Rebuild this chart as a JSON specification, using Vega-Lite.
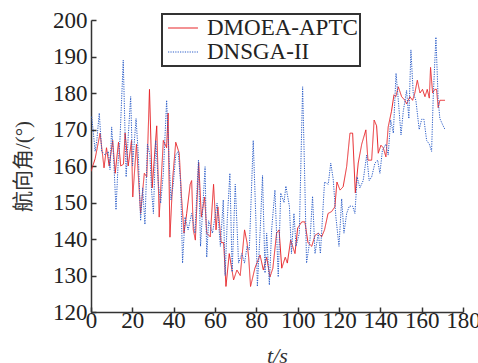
{
  "$schema": "https://vega.github.io/schema/vega-lite/v6.json",
  "width": 372,
  "height": 292,
  "autosize": {"type": "none"},
  "padding": {"left": 91, "top": 20, "right": 15, "bottom": 51},
  "background": "white",
  "config": {
    "view": {"stroke": null},
    "axis": {
      "grid": false,
      "domainColor": "#333",
      "domainWidth": 1.5,
      "tickColor": "#333",
      "tickWidth": 1.5,
      "tickSize": -5,
      "labelFont": "Liberation Serif",
      "labelFontSize": 23,
      "labelColor": "#222",
      "titleFont": "Liberation Serif, Noto Sans CJK SC",
      "titleFontSize": 21,
      "titleFontWeight": "normal",
      "titleColor": "#333"
    }
  },
  "data": {
    "values": [
      {"t": 0, "v": 158.5, "s": "DMOEA-APTC"},
      {"t": 2, "v": 162, "s": "DMOEA-APTC"},
      {"t": 4.4, "v": 169, "s": "DMOEA-APTC"},
      {"t": 6.3, "v": 159.5, "s": "DMOEA-APTC"},
      {"t": 7.5, "v": 165, "s": "DMOEA-APTC"},
      {"t": 8.8, "v": 160, "s": "DMOEA-APTC"},
      {"t": 10.5, "v": 167, "s": "DMOEA-APTC"},
      {"t": 11.7, "v": 158, "s": "DMOEA-APTC"},
      {"t": 13.3, "v": 166.5, "s": "DMOEA-APTC"},
      {"t": 14.4, "v": 160, "s": "DMOEA-APTC"},
      {"t": 15.7, "v": 160.5, "s": "DMOEA-APTC"},
      {"t": 16.5, "v": 169, "s": "DMOEA-APTC"},
      {"t": 18, "v": 160, "s": "DMOEA-APTC"},
      {"t": 19.6, "v": 167, "s": "DMOEA-APTC"},
      {"t": 20.2, "v": 151.5, "s": "DMOEA-APTC"},
      {"t": 22, "v": 166, "s": "DMOEA-APTC"},
      {"t": 24, "v": 147, "s": "DMOEA-APTC"},
      {"t": 25.8, "v": 158, "s": "DMOEA-APTC"},
      {"t": 27, "v": 157, "s": "DMOEA-APTC"},
      {"t": 28.3, "v": 181, "s": "DMOEA-APTC"},
      {"t": 29.6, "v": 154, "s": "DMOEA-APTC"},
      {"t": 31.8, "v": 171, "s": "DMOEA-APTC"},
      {"t": 33, "v": 146, "s": "DMOEA-APTC"},
      {"t": 35, "v": 167, "s": "DMOEA-APTC"},
      {"t": 36.6, "v": 165, "s": "DMOEA-APTC"},
      {"t": 37.3, "v": 174.5, "s": "DMOEA-APTC"},
      {"t": 38.2, "v": 140.5, "s": "DMOEA-APTC"},
      {"t": 39.6, "v": 157, "s": "DMOEA-APTC"},
      {"t": 41, "v": 166.5, "s": "DMOEA-APTC"},
      {"t": 42.7, "v": 163.5, "s": "DMOEA-APTC"},
      {"t": 43.8, "v": 151.5, "s": "DMOEA-APTC"},
      {"t": 45, "v": 141.6, "s": "DMOEA-APTC"},
      {"t": 46.3, "v": 147, "s": "DMOEA-APTC"},
      {"t": 48, "v": 155, "s": "DMOEA-APTC"},
      {"t": 48.7, "v": 156, "s": "DMOEA-APTC"},
      {"t": 49.5, "v": 142.5, "s": "DMOEA-APTC"},
      {"t": 50.5, "v": 139.7, "s": "DMOEA-APTC"},
      {"t": 52.1, "v": 161, "s": "DMOEA-APTC"},
      {"t": 53.4, "v": 146, "s": "DMOEA-APTC"},
      {"t": 55, "v": 151.5, "s": "DMOEA-APTC"},
      {"t": 56, "v": 141.6, "s": "DMOEA-APTC"},
      {"t": 57.7, "v": 140.6, "s": "DMOEA-APTC"},
      {"t": 59.3, "v": 155, "s": "DMOEA-APTC"},
      {"t": 60.5, "v": 142.5, "s": "DMOEA-APTC"},
      {"t": 61.4, "v": 148.8, "s": "DMOEA-APTC"},
      {"t": 63, "v": 139, "s": "DMOEA-APTC"},
      {"t": 64.2, "v": 139, "s": "DMOEA-APTC"},
      {"t": 65.3, "v": 127, "s": "DMOEA-APTC"},
      {"t": 66.9, "v": 136, "s": "DMOEA-APTC"},
      {"t": 69, "v": 128.8, "s": "DMOEA-APTC"},
      {"t": 70.6, "v": 131.5, "s": "DMOEA-APTC"},
      {"t": 72.2, "v": 130, "s": "DMOEA-APTC"},
      {"t": 74.3, "v": 142.5, "s": "DMOEA-APTC"},
      {"t": 75.5, "v": 139, "s": "DMOEA-APTC"},
      {"t": 76.3, "v": 135, "s": "DMOEA-APTC"},
      {"t": 77.2, "v": 127, "s": "DMOEA-APTC"},
      {"t": 79.3, "v": 132, "s": "DMOEA-APTC"},
      {"t": 81.8, "v": 135.6, "s": "DMOEA-APTC"},
      {"t": 83.4, "v": 131.5, "s": "DMOEA-APTC"},
      {"t": 85, "v": 135, "s": "DMOEA-APTC"},
      {"t": 86.6, "v": 129.6, "s": "DMOEA-APTC"},
      {"t": 88, "v": 132, "s": "DMOEA-APTC"},
      {"t": 89.8, "v": 141.6, "s": "DMOEA-APTC"},
      {"t": 91, "v": 142.5, "s": "DMOEA-APTC"},
      {"t": 92.3, "v": 132, "s": "DMOEA-APTC"},
      {"t": 94, "v": 135, "s": "DMOEA-APTC"},
      {"t": 95, "v": 133.4, "s": "DMOEA-APTC"},
      {"t": 96.6, "v": 139.7, "s": "DMOEA-APTC"},
      {"t": 98.7, "v": 136, "s": "DMOEA-APTC"},
      {"t": 100, "v": 143, "s": "DMOEA-APTC"},
      {"t": 102, "v": 144.7, "s": "DMOEA-APTC"},
      {"t": 103.5, "v": 144.7, "s": "DMOEA-APTC"},
      {"t": 105, "v": 139, "s": "DMOEA-APTC"},
      {"t": 106.8, "v": 138, "s": "DMOEA-APTC"},
      {"t": 108.4, "v": 141, "s": "DMOEA-APTC"},
      {"t": 110, "v": 141.6, "s": "DMOEA-APTC"},
      {"t": 111.6, "v": 140.6, "s": "DMOEA-APTC"},
      {"t": 113, "v": 142.5, "s": "DMOEA-APTC"},
      {"t": 114.7, "v": 147, "s": "DMOEA-APTC"},
      {"t": 116.4, "v": 147.5, "s": "DMOEA-APTC"},
      {"t": 118, "v": 148.8, "s": "DMOEA-APTC"},
      {"t": 119, "v": 155.6, "s": "DMOEA-APTC"},
      {"t": 120.5, "v": 153.4, "s": "DMOEA-APTC"},
      {"t": 122, "v": 154.3, "s": "DMOEA-APTC"},
      {"t": 123.7, "v": 159.8, "s": "DMOEA-APTC"},
      {"t": 125.3, "v": 169, "s": "DMOEA-APTC"},
      {"t": 126.6, "v": 169, "s": "DMOEA-APTC"},
      {"t": 127.9, "v": 152.6, "s": "DMOEA-APTC"},
      {"t": 129.3, "v": 160.8, "s": "DMOEA-APTC"},
      {"t": 131, "v": 166, "s": "DMOEA-APTC"},
      {"t": 133, "v": 169.9, "s": "DMOEA-APTC"},
      {"t": 134, "v": 161.6, "s": "DMOEA-APTC"},
      {"t": 135.8, "v": 161.6, "s": "DMOEA-APTC"},
      {"t": 137, "v": 172.6, "s": "DMOEA-APTC"},
      {"t": 138.2, "v": 171, "s": "DMOEA-APTC"},
      {"t": 139, "v": 163.5, "s": "DMOEA-APTC"},
      {"t": 140.3, "v": 165.7, "s": "DMOEA-APTC"},
      {"t": 141.4, "v": 165, "s": "DMOEA-APTC"},
      {"t": 142.7, "v": 162.5, "s": "DMOEA-APTC"},
      {"t": 143.8, "v": 170.7, "s": "DMOEA-APTC"},
      {"t": 145.4, "v": 175, "s": "DMOEA-APTC"},
      {"t": 146.6, "v": 179.5, "s": "DMOEA-APTC"},
      {"t": 147.5, "v": 179, "s": "DMOEA-APTC"},
      {"t": 148.7, "v": 181.7, "s": "DMOEA-APTC"},
      {"t": 150.3, "v": 179, "s": "DMOEA-APTC"},
      {"t": 151.9, "v": 178, "s": "DMOEA-APTC"},
      {"t": 152.7, "v": 177, "s": "DMOEA-APTC"},
      {"t": 154.3, "v": 179, "s": "DMOEA-APTC"},
      {"t": 155.6, "v": 178, "s": "DMOEA-APTC"},
      {"t": 156.7, "v": 180, "s": "DMOEA-APTC"},
      {"t": 157.9, "v": 183.5, "s": "DMOEA-APTC"},
      {"t": 159.2, "v": 180, "s": "DMOEA-APTC"},
      {"t": 160.4, "v": 181, "s": "DMOEA-APTC"},
      {"t": 161.6, "v": 179, "s": "DMOEA-APTC"},
      {"t": 162.7, "v": 181, "s": "DMOEA-APTC"},
      {"t": 163.7, "v": 178.6, "s": "DMOEA-APTC"},
      {"t": 164.3, "v": 187, "s": "DMOEA-APTC"},
      {"t": 165.3, "v": 180, "s": "DMOEA-APTC"},
      {"t": 166.4, "v": 181, "s": "DMOEA-APTC"},
      {"t": 167.2, "v": 181, "s": "DMOEA-APTC"},
      {"t": 168, "v": 176, "s": "DMOEA-APTC"},
      {"t": 168.8, "v": 178, "s": "DMOEA-APTC"},
      {"t": 171.3, "v": 178, "s": "DMOEA-APTC"},

      {"t": 0.3, "v": 173.5, "s": "DNSGA-II"},
      {"t": 1, "v": 170, "s": "DNSGA-II"},
      {"t": 2, "v": 164, "s": "DNSGA-II"},
      {"t": 2.8, "v": 167, "s": "DNSGA-II"},
      {"t": 4, "v": 174.5, "s": "DNSGA-II"},
      {"t": 5.2, "v": 164, "s": "DNSGA-II"},
      {"t": 6.8, "v": 163, "s": "DNSGA-II"},
      {"t": 8.4, "v": 164, "s": "DNSGA-II"},
      {"t": 9.2, "v": 159, "s": "DNSGA-II"},
      {"t": 10, "v": 170.7, "s": "DNSGA-II"},
      {"t": 11, "v": 161.6, "s": "DNSGA-II"},
      {"t": 12.1, "v": 148, "s": "DNSGA-II"},
      {"t": 13.2, "v": 161.6, "s": "DNSGA-II"},
      {"t": 14, "v": 167, "s": "DNSGA-II"},
      {"t": 15.6, "v": 189, "s": "DNSGA-II"},
      {"t": 17, "v": 157, "s": "DNSGA-II"},
      {"t": 18, "v": 168, "s": "DNSGA-II"},
      {"t": 19.2, "v": 179, "s": "DNSGA-II"},
      {"t": 20.1, "v": 160, "s": "DNSGA-II"},
      {"t": 21.8, "v": 173, "s": "DNSGA-II"},
      {"t": 22.9, "v": 163, "s": "DNSGA-II"},
      {"t": 24, "v": 145, "s": "DNSGA-II"},
      {"t": 25, "v": 154, "s": "DNSGA-II"},
      {"t": 26.1, "v": 144, "s": "DNSGA-II"},
      {"t": 27.3, "v": 166, "s": "DNSGA-II"},
      {"t": 28.5, "v": 163, "s": "DNSGA-II"},
      {"t": 29.3, "v": 153.4, "s": "DNSGA-II"},
      {"t": 30.2, "v": 147, "s": "DNSGA-II"},
      {"t": 31.3, "v": 167, "s": "DNSGA-II"},
      {"t": 32.6, "v": 155, "s": "DNSGA-II"},
      {"t": 33.7, "v": 149.8, "s": "DNSGA-II"},
      {"t": 35, "v": 158, "s": "DNSGA-II"},
      {"t": 36.6, "v": 178, "s": "DNSGA-II"},
      {"t": 37.7, "v": 163, "s": "DNSGA-II"},
      {"t": 38.7, "v": 150.7, "s": "DNSGA-II"},
      {"t": 39.8, "v": 155, "s": "DNSGA-II"},
      {"t": 41, "v": 163, "s": "DNSGA-II"},
      {"t": 42.2, "v": 164, "s": "DNSGA-II"},
      {"t": 43.4, "v": 155, "s": "DNSGA-II"},
      {"t": 44.3, "v": 133.4, "s": "DNSGA-II"},
      {"t": 45.5, "v": 146, "s": "DNSGA-II"},
      {"t": 47, "v": 142.5, "s": "DNSGA-II"},
      {"t": 48.7, "v": 147, "s": "DNSGA-II"},
      {"t": 49.6, "v": 144, "s": "DNSGA-II"},
      {"t": 50.3, "v": 141.6, "s": "DNSGA-II"},
      {"t": 52, "v": 161.6, "s": "DNSGA-II"},
      {"t": 53, "v": 138, "s": "DNSGA-II"},
      {"t": 54.3, "v": 150.7, "s": "DNSGA-II"},
      {"t": 55.2, "v": 159.8, "s": "DNSGA-II"},
      {"t": 56, "v": 135, "s": "DNSGA-II"},
      {"t": 56.9, "v": 145, "s": "DNSGA-II"},
      {"t": 58.8, "v": 141.6, "s": "DNSGA-II"},
      {"t": 61, "v": 149.8, "s": "DNSGA-II"},
      {"t": 62.6, "v": 138, "s": "DNSGA-II"},
      {"t": 64, "v": 150.7, "s": "DNSGA-II"},
      {"t": 64.9, "v": 130, "s": "DNSGA-II"},
      {"t": 66, "v": 146, "s": "DNSGA-II"},
      {"t": 67.2, "v": 158, "s": "DNSGA-II"},
      {"t": 68.3, "v": 131, "s": "DNSGA-II"},
      {"t": 69.8, "v": 155, "s": "DNSGA-II"},
      {"t": 71.4, "v": 133.4, "s": "DNSGA-II"},
      {"t": 73, "v": 136, "s": "DNSGA-II"},
      {"t": 74.3, "v": 133.4, "s": "DNSGA-II"},
      {"t": 75.5, "v": 138, "s": "DNSGA-II"},
      {"t": 76.6, "v": 137, "s": "DNSGA-II"},
      {"t": 78.5, "v": 167, "s": "DNSGA-II"},
      {"t": 79.8, "v": 145, "s": "DNSGA-II"},
      {"t": 80.5, "v": 127, "s": "DNSGA-II"},
      {"t": 81.8, "v": 141.6, "s": "DNSGA-II"},
      {"t": 83, "v": 157.4, "s": "DNSGA-II"},
      {"t": 84.2, "v": 130.7, "s": "DNSGA-II"},
      {"t": 85, "v": 141.6, "s": "DNSGA-II"},
      {"t": 86.3, "v": 127.4, "s": "DNSGA-II"},
      {"t": 87.4, "v": 142.5, "s": "DNSGA-II"},
      {"t": 89, "v": 153.4, "s": "DNSGA-II"},
      {"t": 90.6, "v": 129.6, "s": "DNSGA-II"},
      {"t": 91.8, "v": 152.6, "s": "DNSGA-II"},
      {"t": 93.4, "v": 150, "s": "DNSGA-II"},
      {"t": 94.3, "v": 154.5, "s": "DNSGA-II"},
      {"t": 96, "v": 149, "s": "DNSGA-II"},
      {"t": 97, "v": 136, "s": "DNSGA-II"},
      {"t": 98.2, "v": 147, "s": "DNSGA-II"},
      {"t": 99.2, "v": 138, "s": "DNSGA-II"},
      {"t": 100.8, "v": 141.6, "s": "DNSGA-II"},
      {"t": 102.4, "v": 181.7, "s": "DNSGA-II"},
      {"t": 103.5, "v": 154.5, "s": "DNSGA-II"},
      {"t": 104.3, "v": 133.4, "s": "DNSGA-II"},
      {"t": 106, "v": 140, "s": "DNSGA-II"},
      {"t": 107.2, "v": 151.7, "s": "DNSGA-II"},
      {"t": 108.4, "v": 136, "s": "DNSGA-II"},
      {"t": 110, "v": 141.6, "s": "DNSGA-II"},
      {"t": 111, "v": 136, "s": "DNSGA-II"},
      {"t": 113, "v": 155.6, "s": "DNSGA-II"},
      {"t": 114.8, "v": 155, "s": "DNSGA-II"},
      {"t": 116, "v": 160.8, "s": "DNSGA-II"},
      {"t": 117.2, "v": 156.4, "s": "DNSGA-II"},
      {"t": 118.5, "v": 146, "s": "DNSGA-II"},
      {"t": 120, "v": 138, "s": "DNSGA-II"},
      {"t": 121.3, "v": 151, "s": "DNSGA-II"},
      {"t": 122.4, "v": 141.6, "s": "DNSGA-II"},
      {"t": 123.7, "v": 147, "s": "DNSGA-II"},
      {"t": 125, "v": 149, "s": "DNSGA-II"},
      {"t": 126.6, "v": 149, "s": "DNSGA-II"},
      {"t": 127.7, "v": 147, "s": "DNSGA-II"},
      {"t": 128.8, "v": 157, "s": "DNSGA-II"},
      {"t": 130.1, "v": 154, "s": "DNSGA-II"},
      {"t": 131.7, "v": 156, "s": "DNSGA-II"},
      {"t": 133.4, "v": 163, "s": "DNSGA-II"},
      {"t": 134.6, "v": 156, "s": "DNSGA-II"},
      {"t": 135.8, "v": 157, "s": "DNSGA-II"},
      {"t": 137.4, "v": 160.8, "s": "DNSGA-II"},
      {"t": 138.7, "v": 161.6, "s": "DNSGA-II"},
      {"t": 139.8, "v": 158, "s": "DNSGA-II"},
      {"t": 141, "v": 164.3, "s": "DNSGA-II"},
      {"t": 142.7, "v": 166, "s": "DNSGA-II"},
      {"t": 143.8, "v": 163, "s": "DNSGA-II"},
      {"t": 145, "v": 172.6, "s": "DNSGA-II"},
      {"t": 146.3, "v": 169, "s": "DNSGA-II"},
      {"t": 147.6, "v": 185.4, "s": "DNSGA-II"},
      {"t": 148.7, "v": 178, "s": "DNSGA-II"},
      {"t": 150, "v": 168.5, "s": "DNSGA-II"},
      {"t": 151.1, "v": 175, "s": "DNSGA-II"},
      {"t": 152.7, "v": 180.7, "s": "DNSGA-II"},
      {"t": 153.8, "v": 173, "s": "DNSGA-II"},
      {"t": 154.8, "v": 191.8, "s": "DNSGA-II"},
      {"t": 155.9, "v": 180, "s": "DNSGA-II"},
      {"t": 157.2, "v": 178, "s": "DNSGA-II"},
      {"t": 158.8, "v": 170, "s": "DNSGA-II"},
      {"t": 160, "v": 172.8, "s": "DNSGA-II"},
      {"t": 161.1, "v": 172.8, "s": "DNSGA-II"},
      {"t": 162.4, "v": 167, "s": "DNSGA-II"},
      {"t": 163.7, "v": 166, "s": "DNSGA-II"},
      {"t": 164.8, "v": 164, "s": "DNSGA-II"},
      {"t": 165.6, "v": 179, "s": "DNSGA-II"},
      {"t": 166.9, "v": 195.3, "s": "DNSGA-II"},
      {"t": 168, "v": 178, "s": "DNSGA-II"},
      {"t": 168.8, "v": 173, "s": "DNSGA-II"},
      {"t": 170.4, "v": 171, "s": "DNSGA-II"},
      {"t": 171.3, "v": 170, "s": "DNSGA-II"}
    ]
  },
  "mark": {"type": "line", "strokeWidth": 1, "clip": true},
  "encoding": {
    "x": {
      "field": "t",
      "type": "quantitative",
      "scale": {"domain": [0, 180], "nice": false, "zero": false},
      "axis": {
        "values": [0, 20, 40, 60, 80, 100, 120, 140, 160, 180],
        "labelFlush": false,
        "labelOverlap": false,
        "labelBound": false,
        "labelPadding": 2,
        "title": "t/s",
        "titleFontStyle": "italic",
        "titleFontSize": 22,
        "titlePadding": 13
      }
    },
    "y": {
      "field": "v",
      "type": "quantitative",
      "scale": {"domain": [120, 200], "nice": false, "zero": false},
      "axis": {
        "values": [120, 130, 140, 150, 160, 170, 180, 190, 200],
        "labelPadding": 9,
        "labelOverlap": false,
        "labelBound": false,
        "title": "航向角/(°)",
        "titlePadding": 19
      }
    },
    "color": {
      "field": "s",
      "type": "nominal",
      "scale": {"domain": ["DMOEA-APTC", "DNSGA-II"], "range": ["#e8262a", "#2a5cc8"]},
      "legend": {
        "title": null,
        "orient": "none",
        "legendX": 71,
        "legendY": -6,
        "direction": "vertical",
        "fillColor": "white",
        "strokeColor": "#333",
        "padding": 2,
        "labelFont": "Liberation Serif",
        "labelFontSize": 23,
        "labelColor": "#222",
        "labelOffset": 12,
        "symbolType": "M-1.36,0H1.36",
        "symbolSize": 484,
        "symbolOffset": 7,
        "symbolStrokeWidth": 1.2,
        "rowPadding": 0,
        "encode": {"legend": {"update": {"strokeWidth": {"value": 2}}}}
      }
    },
    "strokeDash": {
      "field": "s",
      "type": "nominal",
      "scale": {"domain": ["DMOEA-APTC", "DNSGA-II"], "range": [[1, 0], [1.2, 1.2]]},
      "legend": null
    }
  }
}
